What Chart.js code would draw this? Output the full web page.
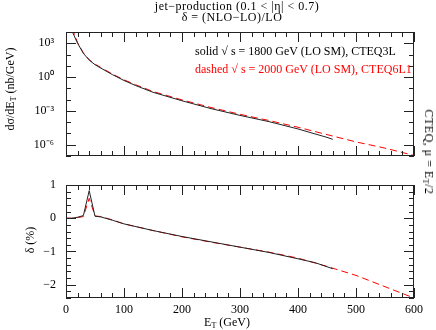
<!DOCTYPE html>
<html>
<head>
<meta charset="utf-8">
<script src="https://cdn.jsdelivr.net/npm/chart.js@4.4.0/dist/chart.umd.min.js"></script>
<style>
  body { margin: 0; background: #fff; }
  #wrap { position: relative; width: 436px; height: 330px; font-family: "Liberation Serif", serif; color: #000; }
  canvas { position: absolute; left: 0; }
  .t { position: absolute; white-space: nowrap; font-size: 12px; line-height: 1; }
  .t sub { font-size: 8px; vertical-align: -2px; line-height: 0; }
  .rot { transform: translate(-50%, -50%) rotate(-90deg); }
  .rotr { transform: translate(-50%, -50%) rotate(90deg); }
</style>
</head>
<body>
<div id="wrap">
  <canvas id="topChart" width="436" height="168" style="top:0"></canvas>
  <canvas id="botChart" width="436" height="162" style="top:168px"></canvas>

  <div class="t" style="left:237px;top:6px;transform:translate(-50%,-50%);letter-spacing:0.5px">jet&minus;production (0.1 &lt; |&eta;| &lt; 0.7)</div>
  <div class="t" style="left:232px;top:17px;transform:translate(-50%,-50%);letter-spacing:0.5px">&delta; = (NLO&minus;LO)/LO</div>

  <div class="t" style="left:195px;top:51px;transform:translateY(-50%)">solid &radic; s = 1800 GeV (LO SM), CTEQ3L</div>
  <div class="t" style="left:195px;top:69px;transform:translateY(-50%);color:#f00">dashed &radic; s = 2000 GeV (LO SM), CTEQ6L1</div>

  <div class="t rot" style="left:10px;top:89px">d&sigma;/dE<sub>T</sub> (nb/GeV)</div>
  <div class="t rot" style="left:30px;top:240px">&delta; (%)</div>
  <div class="t rotr" style="left:429px;top:152px;letter-spacing:0.5px">CTEQ, &mu; = E<sub>T</sub>/2</div>
  <div class="t" style="left:227px;top:322px;transform:translate(-50%,-50%)">E<sub>T</sub> (GeV)</div>
</div>
<script>
// dsigma/dE_T (nb/GeV), sqrt(s) = 1800 GeV, CTEQ3L
const et1800 = [10, 12, 20, 30, 40, 50, 60, 80, 100, 120, 150, 200, 250, 300, 350, 400, 450, 460];
const xsec1800 = [1.3e4, 7.9e3, 1.0e3, 1.26e2, 3.2e1, 1.26e1, 6.3, 1.66, 5.0e-1, 1.78e-1, 4.5e-2, 7.9e-3, 1.6e-3, 4.0e-4, 1.12e-4, 2.5e-5, 4.5e-6, 3.0e-6];

// dsigma/dE_T (nb/GeV), sqrt(s) = 2000 GeV, CTEQ6L1
const et2000 = [10, 12, 20, 30, 40, 50, 60, 80, 100, 120, 150, 200, 250, 300, 350, 400, 450, 500, 550, 600];
const xsec2000 = [2.2e4, 1.4e4, 1.12e3, 1.41e2, 3.55e1, 1.41e1, 7.1, 1.86, 5.75e-1, 2.09e-1, 5.25e-2, 9.5e-3, 2.0e-3, 5.0e-4, 1.41e-4, 3.55e-5, 7.9e-6, 1.78e-6, 5.0e-7, 1.12e-7];

// delta = (NLO-LO)/LO in %
const etD1800 = [0, 10, 20, 30, 40, 50, 60, 80, 100, 150, 200, 250, 300, 350, 400, 430, 460];
const delta1800 = [0.0, 0.0, 0.03, 0.08, 0.83, 0.06, 0.04, -0.06, -0.17, -0.37, -0.55, -0.71, -0.87, -1.03, -1.22, -1.34, -1.52];
const etD2000 = [0, 10, 20, 30, 40, 50, 60, 80, 100, 150, 200, 250, 300, 350, 400, 450, 500, 550, 600];
const delta2000 = [0.0, 0.0, 0.02, 0.05, 0.6, 0.07, 0.05, -0.05, -0.17, -0.37, -0.56, -0.72, -0.87, -1.02, -1.2, -1.45, -1.72, -2.06, -2.4];

// tick labels
const etTicks = [0, 100, 200, 300, 400, 500, 600];
const xsecTicks = [1e-6, 1e-3, 1e0, 1e3];
const xsecTickLabels = ["10\u207B\u2076", "10\u207B\u00B3", "10\u2070", "10\u00B3"];
const deltaTicks = [-2, -1, 0, 1];

Chart.defaults.font.family = '"Liberation Serif", serif';
Chart.defaults.font.size = 12;
Chart.defaults.color = "#000";

const toXY = (xs, ys) => xs.map((x, i) => ({ x: x, y: ys[i] }));

// keep label half-heights from pushing the plot area around
const noPad = s => { s.paddingTop = 0; s.paddingBottom = 0; s.paddingLeft = 0; s.paddingRight = 0; };

// frame + inward ticks on all four sides
const frameTicks = {
  id: "frameTicks",
  afterDatasetsDraw(chart, args, opts) {
    const { ctx, chartArea: a, scales } = chart;
    const x = scales.x, y = scales.y;
    ctx.save();
    ctx.strokeStyle = "#222";
    ctx.lineWidth = 1;
    ctx.strokeRect(a.left + 0.5, a.top + 0.5, a.right - a.left - 1, a.bottom - a.top - 1);
    ctx.beginPath();
    for (let v = 0; v <= 600; v += 20) {
      const px = Math.round(x.getPixelForValue(v)) + 0.5;
      const len = v % 100 === 0 ? 10 : 5;
      ctx.moveTo(px, a.bottom); ctx.lineTo(px, a.bottom - len);
      ctx.moveTo(px, a.top); ctx.lineTo(px, a.top + len);
    }
    opts.yTicks.forEach(t => {
      const py = Math.round(y.getPixelForValue(t.v)) + 0.5;
      const len = t.major ? 10 : 5;
      ctx.moveTo(a.left, py); ctx.lineTo(a.left + len, py);
      ctx.moveTo(a.right, py); ctx.lineTo(a.right - len, py);
    });
    ctx.stroke();
    ctx.restore();
  }
};

const logTicks = [];
for (let d = -7; d <= 4; d++) logTicks.push({ v: Math.pow(10, d), major: [-6, -3, 0, 3].includes(d) });
const linTicks = [];
for (let k = -12; k <= 5; k++) linTicks.push({ v: k / 5, major: k % 5 === 0 });

new Chart(document.getElementById("topChart").getContext("2d"), {
  type: "line",
  data: {
    datasets: [
      {
        label: "1800",
        data: toXY(et1800, xsec1800),
        borderColor: "#222",
        borderWidth: 1,
        pointRadius: 0,
      },
      {
        label: "2000",
        data: toXY(et2000, xsec2000),
        borderColor: "#f00",
        borderWidth: 1,
        borderDash: [7, 4],
        pointRadius: 0,
      },
    ],
  },
  options: {
    responsive: false,
    animation: false,
    layout: { padding: { top: 32, right: 22, bottom: 12, left: 0 } },
    plugins: { legend: { display: false }, tooltip: { enabled: false }, frameTicks: { yTicks: logTicks } },
    scales: {
      x: { type: "linear", min: 0, max: 600, display: false, afterFit: noPad },
      y: {
        type: "logarithmic",
        min: 1e-7,
        max: 1e4,
        grid: { display: false, drawTicks: false },
        border: { display: false },
        afterBuildTicks: s => { s.ticks = xsecTicks.map(v => ({ value: v })); },
        afterFit: s => { s.width = 66; noPad(s); },
        ticks: {
          padding: 12,
          callback: v => xsecTickLabels[xsecTicks.indexOf(v)],
        },
      },
    },
  },
  plugins: [frameTicks],
});

new Chart(document.getElementById("botChart").getContext("2d"), {
  type: "line",
  data: {
    datasets: [
      {
        label: "1800",
        data: toXY(etD1800, delta1800),
        borderColor: "#222",
        borderWidth: 1,
        pointRadius: 0,
      },
      {
        label: "2000",
        data: toXY(etD2000, delta2000),
        borderColor: "#f00",
        borderWidth: 1,
        borderDash: [7, 4],
        pointRadius: 0,
      },
    ],
  },
  options: {
    responsive: false,
    animation: false,
    layout: { padding: { top: 17, right: 22, bottom: 0, left: 0 } },
    plugins: { legend: { display: false }, tooltip: { enabled: false }, frameTicks: { yTicks: linTicks } },
    scales: {
      x: {
        type: "linear",
        min: 0,
        max: 600,
        grid: { display: false, drawTicks: false },
        border: { display: false },
        afterBuildTicks: s => { s.ticks = etTicks.map(v => ({ value: v })); },
        afterFit: s => { s.height = 32; noPad(s); },
        ticks: { padding: 5, maxRotation: 0 },
      },
      y: {
        type: "linear",
        min: -2.4,
        max: 1,
        grid: { display: false, drawTicks: false },
        border: { display: false },
        afterBuildTicks: s => { s.ticks = deltaTicks.map(v => ({ value: v })); },
        afterFit: s => { s.width = 66; noPad(s); },
        ticks: {
          padding: 10,
          callback: v => String(v).replace("-", "\u2212"),
        },
      },
    },
  },
  plugins: [frameTicks],
});
</script>
</body>
</html>
